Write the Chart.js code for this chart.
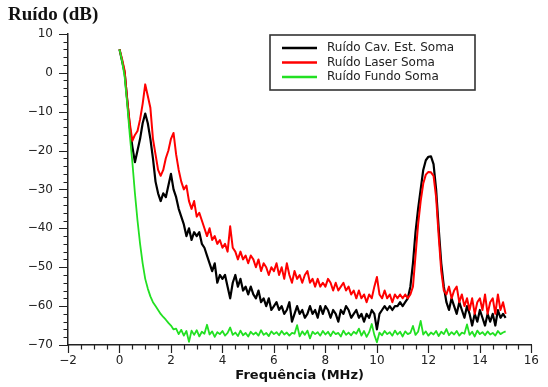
<!DOCTYPE html>
<html>

<head>
    <meta charset="utf-8">
    <title>ruido_soma</title>
    <script src="https://cdn.jsdelivr.net/npm/chart.js"></script>
    <style>
        html, body {
            margin: 0;
            padding: 0;
            background: #fff;
        }

        #wrap {
            width: 548px;
            height: 387px;
        }
    </style>
</head>

<body>
    <div id="wrap"><canvas id="chartCanvas"></canvas></div>
    <script>
        // amostras a cada 0.1 MHz, a partir de 0 MHz (uma linha = 1 MHz)
        const freqStep = 0.1;

        const xTickValues = [-2, 0, 2, 4, 6, 8, 10, 12, 14, 16];
        const yTickValues = [-70, -60, -50, -40, -30, -20, -10, 0, 10];
        const xMinorStep = 0.5;
        const yMinorStep = 2;

        const seriesLabels = ['Ruído Cav. Est. Soma', 'Ruído Laser Soma', 'Ruído Fundo Soma'];
        const seriesColors = ['#000000', '#ff0000', '#22e022'];
        const seriesWidths = [2.2, 2, 1.8];

        const ruidoCav = [
            6, 3, 0, -7, -14, -19, -23, -20, -17, -13,
            -10.5, -13, -17, -22, -28, -31, -33, -31, -32, -29,
            -26, -30, -32, -35, -37, -39, -42, -40, -43, -41,
            -42, -41, -44, -45, -47, -49, -51, -49, -54, -52,
            -53, -52, -55, -58, -54, -52, -55, -53, -56, -55,
            -57, -55, -57, -58, -56, -59, -58, -60, -58, -61,
            -60, -59, -61, -60, -62, -61, -59, -64, -62, -60,
            -62, -61, -63, -62, -60, -62, -61, -63, -60, -62,
            -60, -61, -63, -61, -62, -64, -61, -62, -60, -61,
            -63, -62, -61, -63, -62, -64, -62, -63, -61, -62,
            -66, -62, -61, -60, -61, -60, -61, -60, -60, -59,
            -60, -59, -58, -55, -49, -41, -35, -30, -25, -22.5,
            -21.6, -21.5, -23.5, -30, -40, -49, -55, -59, -61, -58,
            -60, -62, -59, -61, -63, -60, -62, -65, -62, -64,
            -61, -63, -65, -62, -64, -62, -65, -61, -63, -62,
            -63
        ];

        const ruidoLaser = [
            6, 3.5, 0.5, -7, -13, -17.5, -16, -15, -12, -8,
            -3, -6, -9, -17, -21, -25, -26.5, -25, -22, -20,
            -17, -15.5, -21, -25, -28, -30, -29, -33, -35, -33,
            -37, -36, -38, -40, -42, -40, -43, -42, -44, -43,
            -45, -44, -46, -39.5, -45, -46, -48, -46, -48, -47,
            -49, -47, -48, -50, -48, -51, -49, -50, -52, -50,
            -51, -49, -52, -50, -53, -49, -52, -54, -51, -53,
            -52, -54, -52, -51, -54, -53, -55, -53, -55, -54,
            -55, -53, -54, -56, -54, -56, -55, -54, -56, -55,
            -57, -56, -58, -56, -58, -57, -59, -57, -58, -55,
            -52.5, -57, -58, -56, -58, -57, -59, -57, -58, -57,
            -58, -57, -58, -57, -55, -47, -39, -33, -28.5, -26.2,
            -25.5, -25.6, -26.5, -32, -42, -51, -56, -57, -55, -58,
            -56, -55, -59, -57, -60, -58, -61, -58, -62, -59,
            -58, -61, -57, -62, -59, -58, -62, -57, -61, -59,
            -62
        ];

        const ruidoFundo = [
            6, 3, -1, -8, -16, -23, -31, -38, -44, -49,
            -53, -55.5, -57.5, -59, -60, -61, -62, -62.8, -63.5, -64.3,
            -65, -66, -65.8, -67.2, -66.1, -67.6, -66.4, -69.2, -66.3, -67.4,
            -66.2, -67.8, -66.6, -67.1, -64.8, -67.3, -66.5, -67.9, -66.7, -67.2,
            -66.4, -67.6, -66.9, -65.5, -67.4, -66.8, -67.7, -66.3, -67.5, -66.9,
            -67.8, -66.6, -67.3, -66.8, -67.6, -66.2, -67.4, -66.9, -67.7, -66.5,
            -67.2, -66.7, -67.5, -66.4, -67.3, -66.8, -67.6, -66.9, -67.1, -64.9,
            -67.8, -66.5, -67.4, -66.3, -68.3, -66.6, -67.2, -66.7, -67.6, -66.4,
            -67.3, -66.6, -67.7, -66.5, -67.2, -66.9, -67.8, -66.3, -67.4, -66.8,
            -67.5, -66.6, -67.1, -65.8, -67.6, -66.4, -67.9, -66.7, -64.6, -67.4,
            -69.3, -66.8, -67.5, -66.4, -67.2, -66.7, -67.6, -66.3, -67.3, -66.6,
            -67.8, -66.5, -67.2, -66.9, -65.1, -67.4, -66.6, -63.8, -67.3, -66.5,
            -67.6, -66.8, -67.3, -66.4, -67.7, -66.6, -67.2, -65.9, -67.5, -66.7,
            -67.3, -66.4, -67.6, -66.8, -67.1, -64.7, -67.4, -66.6, -67.8, -66.3,
            -67.2, -66.7, -67.5, -66.5, -67.3, -66.9, -67.6, -66.4, -67.2, -66.8,
            -66.5
        ];

        const allSeries = [ruidoCav, ruidoLaser, ruidoFundo];

        function toPoints(values) {
            return values.map((v, i) => ({ x: Math.round(i * freqStep * 10) / 10, y: v }));
        }

        function fmt(v) {
            return String(v).replace('-', '\u2212');
        }

        const tickFont = { family: "'DejaVu Sans', sans-serif", size: 12 };
        const axisColor = '#222';

        // ticks menores e maiores, para fora dos eixos
        const axisTicks = {
            id: 'axisTicks',
            afterDraw(chart) {
                const { ctx, chartArea: a, scales: { x, y } } = chart;
                ctx.save();
                ctx.strokeStyle = axisColor;
                ctx.lineWidth = 1.2;
                ctx.beginPath();
                const nx = Math.round((x.max - x.min) / xMinorStep);
                for (let i = 0; i <= nx; i++) {
                    const v = x.min + i * xMinorStep;
                    const px = Math.round(x.getPixelForValue(v)) + 0.5;
                    const major = xTickValues.includes(v);
                    ctx.moveTo(px, a.bottom);
                    ctx.lineTo(px, a.bottom + (major ? 8 : 4.5));
                }
                const ny = Math.round((y.max - y.min) / yMinorStep);
                for (let i = 0; i <= ny; i++) {
                    const v = y.min + i * yMinorStep;
                    const py = Math.round(y.getPixelForValue(v)) + 0.5;
                    const major = yTickValues.includes(v);
                    ctx.moveTo(a.left, py);
                    ctx.lineTo(a.left - (major ? 9 : 4.5), py);
                }
                ctx.stroke();
                ctx.restore();
            }
        };

        // legenda em caixa no canto superior direito
        const boxLegend = {
            id: 'boxLegend',
            afterDraw(chart) {
                const ctx = chart.ctx;
                const bx = 270, by = 35, bw = 205, bh = 55;
                ctx.save();
                ctx.fillStyle = '#fff';
                ctx.fillRect(bx, by, bw, bh);
                ctx.strokeStyle = '#333';
                ctx.lineWidth = 1.6;
                ctx.strokeRect(bx, by, bw, bh);
                ctx.font = "12px 'DejaVu Sans', sans-serif";
                ctx.textBaseline = 'middle';
                ctx.textAlign = 'left';
                seriesLabels.forEach((label, i) => {
                    const ly = by + 13 + i * 14.5;
                    ctx.strokeStyle = seriesColors[i];
                    ctx.lineWidth = 2.5;
                    ctx.beginPath();
                    ctx.moveTo(bx + 12, ly);
                    ctx.lineTo(bx + 47, ly);
                    ctx.stroke();
                    ctx.fillStyle = '#222';
                    ctx.fillText(label, bx + 57, ly);
                });
                ctx.restore();
            }
        };

        const chart = new Chart(document.getElementById('chartCanvas'), {
            type: 'line',
            data: {
                datasets: allSeries.map((values, i) => ({
                    label: seriesLabels[i],
                    data: toPoints(values),
                    borderColor: seriesColors[i],
                    borderWidth: seriesWidths[i],
                    borderJoinStyle: 'round',
                    pointRadius: 0,
                    tension: 0,
                    order: 3 - i
                }))
            },
            options: {
                responsive: true,
                maintainAspectRatio: false,
                animation: false,
                layout: { padding: { left: 8, right: 10, top: 0, bottom: 0 } },
                plugins: {
                    legend: { display: false },
                    tooltip: { enabled: false },
                    title: {
                        display: true,
                        text: 'Ruído (dB)',
                        align: 'start',
                        color: '#111',
                        font: { family: "'Liberation Serif', serif", size: 19, weight: 'bold' },
                        padding: { top: 4, bottom: 7 }
                    }
                },
                scales: {
                    x: {
                        type: 'linear',
                        min: -2,
                        max: 16,
                        afterBuildTicks: s => { s.ticks = xTickValues.map(v => ({ value: v })); },
                        afterFit: s => { s.height = 42; },
                        grid: { display: false, drawTicks: false },
                        border: { display: true, color: axisColor, width: 1.5 },
                        ticks: { padding: 9, color: axisColor, font: tickFont, callback: v => fmt(v) },
                        title: {
                            display: true,
                            text: 'Frequência (MHz)',
                            color: '#111',
                            font: { family: "'DejaVu Sans', sans-serif", size: 13, weight: 'bold' },
                            padding: { top: 0, bottom: 4 }
                        }
                    },
                    y: {
                        type: 'linear',
                        min: -70,
                        max: 10,
                        afterBuildTicks: s => { s.ticks = yTickValues.map(v => ({ value: v })); },
                        afterFit: s => { s.width = 60; },
                        grid: { display: false, drawTicks: false },
                        border: { display: true, color: axisColor, width: 1.5 },
                        ticks: { padding: 15, color: axisColor, font: tickFont, callback: v => fmt(v) }
                    }
                }
            },
            plugins: [axisTicks, boxLegend]
        });
    </script>
</body>

</html>
